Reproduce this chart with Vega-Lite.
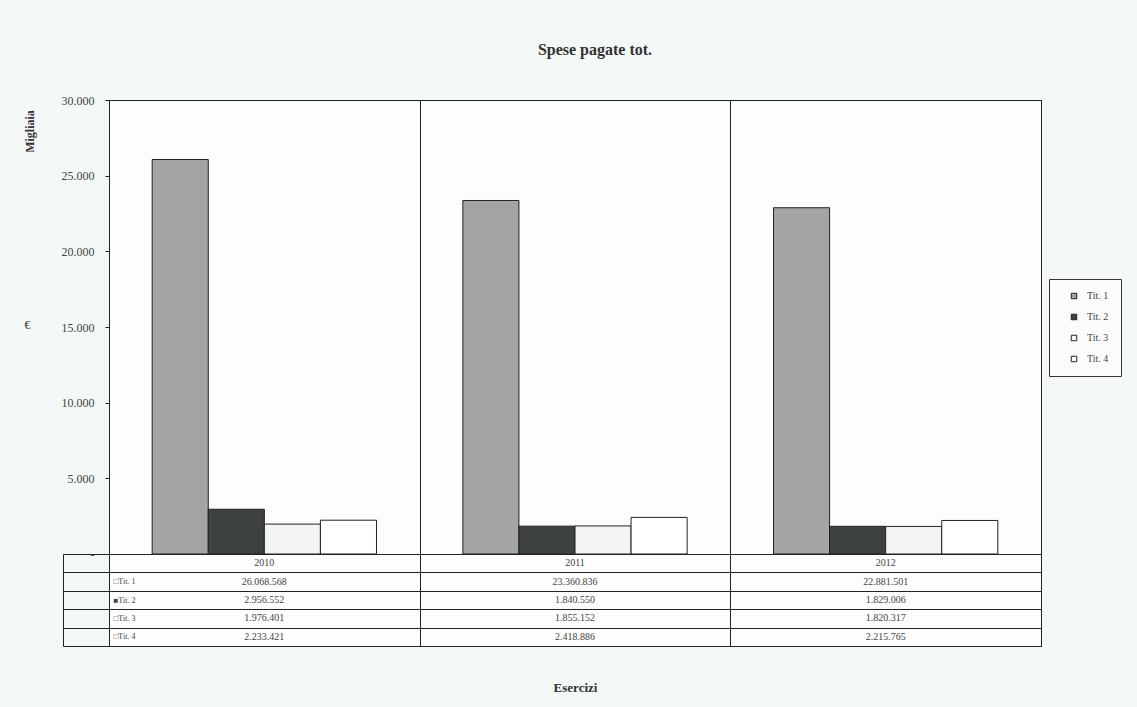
{
  "$schema": "https://vega.github.io/schema/vega-lite/v6.json",
  "background": "#f4f8f6",
  "padding": {"left": 22, "top": 41, "right": 15, "bottom": 14},
  "title": {"text": "Spese pagate tot.", "font": "Liberation Serif", "fontSize": 16, "fontWeight": "bold", "color": "#333333", "offset": 36, "anchor": "middle", "dx": 23},
  "config": {
    "locale": {"number": {"decimal": ",", "thousands": ".", "grouping": [3], "currency": ["", " €"]}},
    "font": "Liberation Serif",
    "view": {"stroke": "#222222", "strokeWidth": 1, "fill": "#fcfdfc"},
    "concat": {"spacing": 0},
    "axis": {"labelFont": "Liberation Serif", "titleFont": "Liberation Serif", "labelColor": "#444444", "titleColor": "#333333"}
  },
  "datasets": {
    "spese": [
      {"anno": "2010", "titolo": "Tit. 1", "valore": 26068568},
      {"anno": "2010", "titolo": "Tit. 2", "valore": 2956552},
      {"anno": "2010", "titolo": "Tit. 3", "valore": 1976401},
      {"anno": "2010", "titolo": "Tit. 4", "valore": 2233421},
      {"anno": "2011", "titolo": "Tit. 1", "valore": 23360836},
      {"anno": "2011", "titolo": "Tit. 2", "valore": 1840550},
      {"anno": "2011", "titolo": "Tit. 3", "valore": 1855152},
      {"anno": "2011", "titolo": "Tit. 4", "valore": 2418886},
      {"anno": "2012", "titolo": "Tit. 1", "valore": 22881501},
      {"anno": "2012", "titolo": "Tit. 2", "valore": 1829006},
      {"anno": "2012", "titolo": "Tit. 3", "valore": 1820317},
      {"anno": "2012", "titolo": "Tit. 4", "valore": 2215765}
    ],
    "anni": [{"anno": "2010"}, {"anno": "2011"}, {"anno": "2012"}]
  },
  "spacing": 0,
  "bounds": "flush",
  "vconcat": [
    {
      "width": 932,
      "height": 454,
      "data": {"name": "spese"},
      "layer": [
        {
          "mark": {"type": "bar", "stroke": "#222222", "strokeWidth": 1},
          "encoding": {
            "x": {"field": "anno", "type": "nominal", "scale": {"paddingInner": 0, "paddingOuter": 0},
                  "axis": {"orient": "top", "title": null, "labels": false, "ticks": false, "domain": false, "grid": true, "tickBand": "extent", "gridColor": "#222222", "gridOpacity": 1, "gridWidth": 1, "minExtent": 0, "maxExtent": 0}},
            "xOffset": {"field": "titolo", "type": "nominal", "scale": {"paddingInner": 0, "paddingOuter": 0.77}},
            "y": {"field": "valore", "type": "quantitative", "scale": {"domain": [0, 30000000]},
                  "axis": {"orient": "left", "values": [0, 5000000, 10000000, 15000000, 20000000, 25000000, 30000000],
                           "labelExpr": "datum.value == 0 ? '-' : format(datum.value / 1000, ',.0f')",
                           "labelFontSize": 12, "labelPadding": 11, "tickSize": 4, "tickColor": "#222222", "domainColor": "#222222", "grid": false,
                           "title": "€", "titleAngle": 0, "titleAlign": "center", "titleBaseline": "middle", "titleX": -82, "titleY": 224, "titleFontSize": 12, "titleFontWeight": "normal"}},
            "color": {"field": "titolo", "type": "nominal",
                      "scale": {"domain": ["Tit. 1", "Tit. 2", "Tit. 3", "Tit. 4"], "range": ["#a2a5a3", "#3d4241", "#f3f5f3", "#ffffff"]},
                      "legend": {"title": null, "orient": "none", "legendX": 940, "legendY": 179, "symbolType": "square", "symbolSize": 30, "symbolStrokeColor": "#222222", "symbolStrokeWidth": 1, "symbolOpacity": 1, "symbolOffset": 8, "labelOffset": 8, "labelFontSize": 10, "labelColor": "#444444", "labelFont": "Liberation Serif", "rowPadding": 11, "padding": 12, "strokeColor": "#333333", "fillColor": "#fafcfb"}}
          }
        },
        {
          "mark": {"type": "tick", "opacity": 0},
          "encoding": {
            "y": {"field": "valore", "type": "quantitative",
                  "axis": {"orient": "left", "labels": false, "ticks": false, "domain": false, "grid": false,
                           "title": "Migliaia", "titleAngle": -90, "titleAlign": "center", "titleBaseline": "middle", "titleX": -80, "titleY": 31, "titleFontSize": 12, "titleFontWeight": "bold"}}
          }
        }
      ],
      "resolve": {"axis": {"y": "independent"}}
    },
    {
      "width": 932,
      "height": 92,
      "encoding": {
        "x": {"field": "anno", "type": "nominal", "scale": {"paddingInner": 0, "paddingOuter": 0},
              "axis": {"title": "Esercizi", "labels": false, "ticks": false, "domain": false, "grid": true, "tickBand": "extent", "gridColor": "#222222", "gridOpacity": 1,
                       "titleFontSize": 13, "titleFontWeight": "bold", "titlePadding": 35}}
      },
      "layer": [
        {
          "data": {"name": "spese"},
          "mark": {"type": "text", "fontSize": 10, "color": "#444444", "font": "Liberation Serif"},
          "encoding": {
            "y": {"field": "titolo", "type": "nominal",
                  "scale": {"domain": ["", "Tit. 1", "Tit. 2", "Tit. 3", "Tit. 4"], "paddingInner": 0, "paddingOuter": 0},
                  "axis": {"title": null, "offset": 46, "tickSize": -46, "tickBand": "extent", "tickColor": "#222222", "domainColor": "#222222",
                           "grid": true, "gridColor": "#222222", "gridOpacity": 1,
                           "labelAlign": "left", "labelPadding": -4, "labelFontSize": 8, "labelColor": "#444444",
                           "labelExpr": "!datum.value ? '' : (datum.value == 'Tit. 2' ? '■' : '□') + datum.value"}},
            "text": {"field": "valore", "type": "quantitative", "format": ",d"}
          }
        },
        {
          "data": {"name": "anni"},
          "mark": {"type": "text", "fontSize": 10, "color": "#444444", "font": "Liberation Serif"},
          "encoding": {
            "y": {"datum": ""},
            "text": {"field": "anno", "type": "nominal"}
          }
        }
      ]
    }
  ]
}
